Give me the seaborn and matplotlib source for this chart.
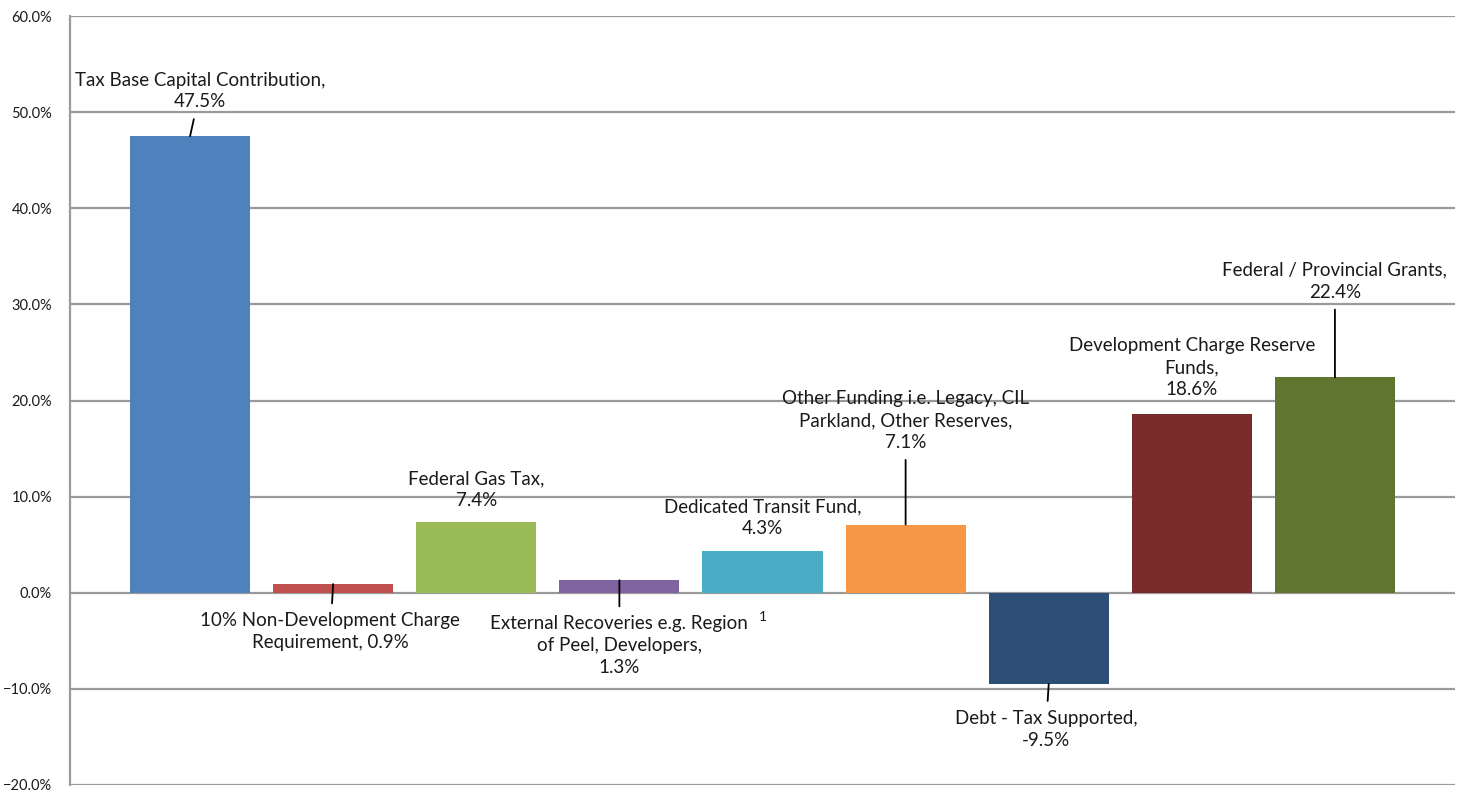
import matplotlib
matplotlib.use("Agg")
import matplotlib.pyplot as plt
import seaborn as sns
import pandas as pd
from matplotlib.ticker import PercentFormatter

# Capital funding sources (share of total, %)
sources = [
    "Tax Base Capital Contribution",
    "10% Non-Development Charge Requirement",
    "Federal Gas Tax",
    "External Recoveries e.g. Region of Peel, Developers",
    "Dedicated Transit Fund",
    "Other Funding i.e. Legacy, CIL Parkland, Other Reserves",
    "Debt - Tax Supported",
    "Development Charge Reserve Funds",
    "Federal / Provincial Grants",
]
shares = [47.5, 0.9, 7.4, 1.3, 4.3, 7.1, -9.5, 18.6, 22.4]

# Wrapped label text as shown next to each bar
label_names = [
    "Tax Base Capital Contribution,",
    "10% Non-Development Charge\nRequirement,",
    "Federal Gas Tax,",
    "External Recoveries e.g. Region\nof Peel, Developers,",
    "Dedicated Transit Fund,",
    "Other Funding i.e. Legacy, CIL\nParkland, Other Reserves,",
    "Debt - Tax Supported,",
    "Development Charge Reserve\nFunds,",
    "Federal / Provincial Grants,",
]
# whether the value goes on its own line
value_newline = [True, False, True, True, True, True, True, True, True]

colors = ["#4F81BD", "#C0504D", "#9BBB59", "#8064A2", "#4BACC6",
          "#F79646", "#2C4D75", "#772C2A", "#5F7530"]

y_ticks = [-20, -10, 0, 10, 20, 30, 40, 50, 60]

# label block centres (category offset, y in %) and leader-line flags
label_pos = [(0.07, 52.2), (0.98, -4.05), (2.0, 10.7), (3.0, -5.5), (4.0, 7.8),
             (5.0, 17.9), (5.98, -14.2), (7.0, 23.4), (8.0, 32.4)]
has_leader = [True, True, False, True, False, True, True, False, True]

df = pd.DataFrame({"source": sources, "share": shares})

sns.set_theme(style="white")
plt.rcParams["font.family"] = ["Lato", "DejaVu Sans"]

fig = plt.figure(figsize=(14.62, 7.93), dpi=100)
ax = fig.add_axes([70 / 1462, 1 - 785 / 793, (1455 - 70) / 1462, (785 - 16) / 793])

sns.barplot(data=df, x="source", y="share", hue="source", palette=colors,
            legend=False, width=0.84, saturation=1, linewidth=0,
            ax=ax, zorder=3)

ax.set_ylim(-20, 60)
ax.set_xlim(-0.839, 8.839)
ax.set_yticks(y_ticks)
ax.yaxis.set_major_formatter(PercentFormatter(decimals=1))
ax.set_xticks([])
ax.set_xlabel("")
ax.set_ylabel("")
ax.tick_params(axis="y", length=0, labelsize=10.5, pad=13, colors="#1a1a1a")

grid_color = "#9a9a9a"
for yv in y_ticks:
    ax.axhline(yv, color=grid_color, lw=1.6, zorder=1)
for side in ["top", "right", "bottom"]:
    ax.spines[side].set_visible(False)
ax.spines["left"].set_color(grid_color)
ax.spines["left"].set_linewidth(1.6)

for i, (name, val) in enumerate(zip(label_names, shares)):
    sep = "\n" if value_newline[i] else " "
    txt = f"{name}{sep}{val:.1f}%"
    tx, ty = label_pos[i]
    arrow = dict(arrowstyle="-", color="black", lw=1.3, shrinkA=4, shrinkB=0) if has_leader[i] else None
    ax.annotate(txt, xy=(i, val), xytext=(tx, ty), textcoords="data",
                ha="center", va="center", fontsize=13.5, color="#1a1a1a",
                linespacing=1.35, arrowprops=arrow, zorder=5)

# footnote marker on the external recoveries label
ax.text(4.0, -2.5, "1", ha="center", va="center", fontsize=10, color="#1a1a1a")

fig.savefig("out.png", dpi=100, facecolor="white")
